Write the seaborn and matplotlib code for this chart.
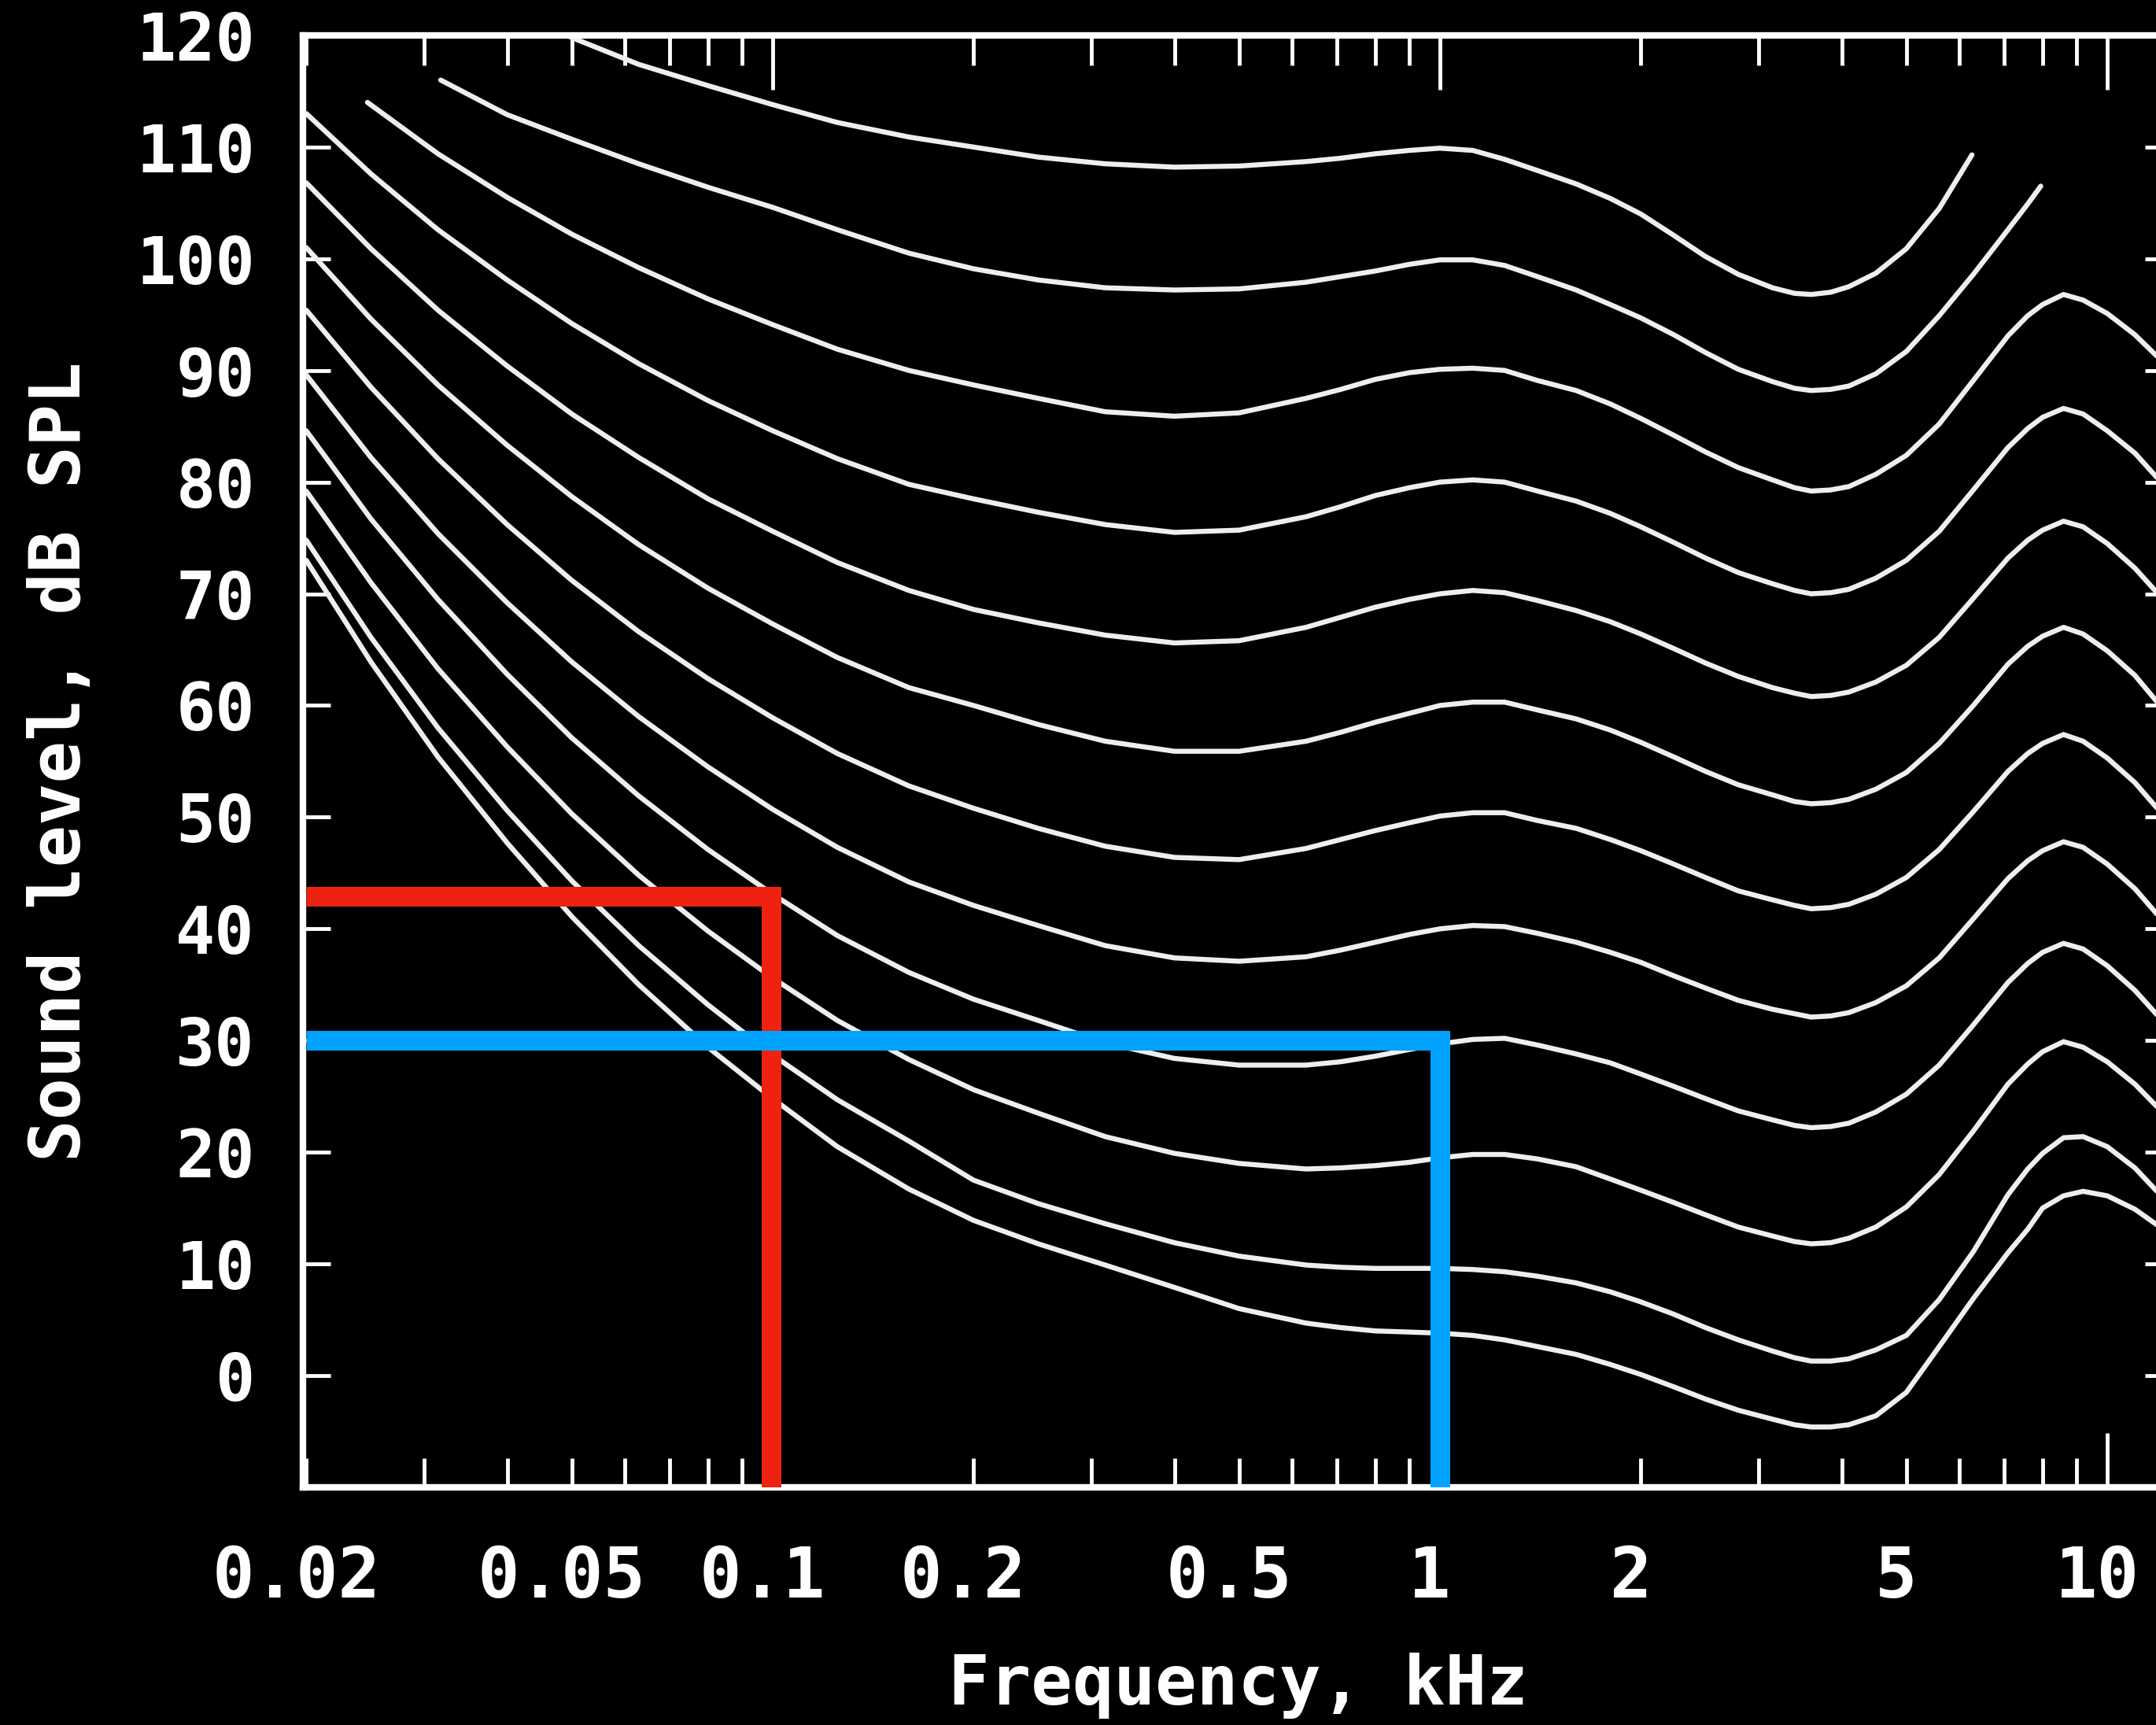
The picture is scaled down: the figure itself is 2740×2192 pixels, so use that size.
import matplotlib
matplotlib.use("Agg")
import matplotlib.pyplot as plt
import matplotlib.transforms as mtransforms
import pandas as pd
import seaborn as sns


# frequencies (kHz) shared by the lower contours
freq = [0.02, 0.025, 0.0315, 0.04, 0.05, 0.063, 0.08, 0.1, 0.125, 0.16,
        0.2, 0.25, 0.315, 0.4, 0.5, 0.63, 0.71, 0.8, 0.9, 1.0,
        1.12, 1.25, 1.4, 1.6, 1.8, 2.0, 2.24, 2.5, 2.8, 3.15,
        3.4, 3.6, 3.85, 4.1, 4.5, 5.0, 5.6, 6.3, 7.1, 7.6,
        8.0, 8.6, 9.2, 10.0, 11.0, 12.0]

# sound level (dB SPL)
spl_thr = [73.0, 63.9, 55.4, 47.7, 41.1, 35.0, 29.4, 24.8, 20.5, 16.7,
           13.9, 11.8, 9.9, 7.9, 6.0, 4.7, 4.3, 4.0, 3.9, 3.8,
           3.6, 3.2, 2.6, 1.9, 1.0, 0.1, -1.0, -2.1, -3.1, -3.9,
           -4.4, -4.6, -4.6, -4.4, -3.6, -1.5, 2.6, 6.9, 11.0, 13.1,
           15.0, 16.1, 16.5, 16.1, 14.9, 13.3]
spl_10 = [74.8, 66.1, 58.0, 50.6, 44.3, 38.5, 33.2, 28.7, 24.7, 21.0,
          17.5, 15.4, 13.6, 11.9, 10.7, 9.9, 9.7, 9.6, 9.6, 9.6,
          9.5, 9.3, 8.9, 8.3, 7.5, 6.6, 5.5, 4.3, 3.2, 2.2,
          1.6, 1.3, 1.3, 1.5, 2.3, 3.6, 6.8, 11.1, 16.2, 18.5,
          19.9, 21.3, 21.4, 20.5, 18.6, 16.2]
spl_20 = [79.2, 71.0, 63.3, 56.3, 50.3, 44.8, 39.8, 35.6, 31.8, 28.3,
          25.6, 23.5, 21.4, 19.9, 19.0, 18.5, 18.6, 18.8, 19.1, 19.5,
          19.8, 19.8, 19.4, 18.7, 17.6, 16.6, 15.5, 14.4, 13.3, 12.5,
          12.0, 11.8, 11.9, 12.3, 13.3, 15.1, 18.0, 21.9, 26.1, 27.9,
          29.0, 29.9, 29.4, 28.1, 26.1, 23.8]
spl_30 = [84.6, 76.7, 69.5, 62.8, 57.1, 51.9, 47.1, 43.1, 39.4, 36.1,
          33.7, 31.8, 29.8, 28.4, 27.8, 27.8, 28.1, 28.6, 29.2, 29.7,
          30.1, 30.2, 29.6, 28.8, 28.0, 27.0, 25.9, 24.8, 23.7, 22.9,
          22.4, 22.2, 22.3, 22.6, 23.6, 25.2, 27.8, 31.4, 35.2, 36.9,
          37.9, 38.7, 38.2, 36.7, 34.5, 32.0]
spl_40 = [89.6, 82.2, 75.4, 69.2, 63.9, 59.0, 54.5, 50.7, 47.3, 44.2,
          42.1, 40.3, 38.5, 37.4, 37.1, 37.5, 38.1, 38.8, 39.5, 40.0,
          40.3, 40.2, 39.6, 38.8, 37.9, 37.0, 35.8, 34.7, 33.6, 32.8,
          32.4, 32.1, 32.2, 32.5, 33.4, 34.9, 37.4, 40.9, 44.5, 46.1,
          47.0, 47.8, 47.3, 45.8, 43.6, 41.0]
spl_50 = [95.4, 88.5, 82.1, 76.2, 71.2, 66.6, 62.4, 58.9, 55.7, 52.8,
          50.8, 49.0, 47.4, 46.4, 46.2, 47.2, 48.0, 48.8, 49.5, 50.1,
          50.4, 50.4, 49.7, 49.0, 48.0, 47.0, 45.8, 44.6, 43.4, 42.6,
          42.1, 41.8, 41.9, 42.2, 43.1, 44.6, 47.1, 50.5, 54.1, 55.7,
          56.6, 57.4, 56.8, 55.3, 53.1, 50.5]
spl_60 = [101.0, 94.6, 88.7, 83.3, 78.7, 74.4, 70.5, 67.3, 64.3, 61.6,
          60.0, 58.3, 56.8, 55.9, 55.9, 56.8, 57.6, 58.5, 59.3, 60.0,
          60.3, 60.3, 59.6, 58.8, 57.8, 56.7, 55.4, 54.1, 52.9, 52.0,
          51.4, 51.2, 51.3, 51.6, 52.5, 54.0, 56.6, 60.0, 63.7, 65.3,
          66.2, 67.0, 66.4, 64.9, 62.7, 60.0]
spl_70 = [106.8, 100.9, 95.4, 90.4, 86.1, 82.2, 78.5, 75.6, 72.8, 70.3,
          68.6, 67.4, 66.3, 65.6, 65.8, 67.0, 67.9, 68.8, 69.5, 70.0,
          70.3, 70.1, 69.4, 68.5, 67.5, 66.4, 65.1, 63.8, 62.6, 61.6,
          61.1, 60.8, 60.9, 61.2, 62.1, 63.6, 66.1, 69.6, 73.2, 74.8,
          75.7, 76.5, 76.0, 74.5, 72.3, 69.8]
spl_80 = [113.0, 107.6, 102.6, 98.1, 94.2, 90.6, 87.3, 84.6, 82.1, 79.8,
          78.5, 77.3, 76.2, 75.5, 75.7, 76.9, 77.8, 78.8, 79.5, 80.0,
          80.2, 80.0, 79.2, 78.3, 77.2, 76.0, 74.6, 73.2, 71.9, 70.9,
          70.3, 70.0, 70.1, 70.4, 71.4, 73.0, 75.6, 79.3, 83.1, 84.8,
          85.8, 86.6, 86.1, 84.6, 82.6, 80.1]

# the three loudest contours start / stop inside the frame
freq_90 = [0.0247, 0.0315, 0.04, 0.05, 0.063, 0.08, 0.1, 0.125, 0.16,
           0.2, 0.25, 0.315, 0.4, 0.5, 0.63, 0.71, 0.8, 0.9, 1.0,
           1.12, 1.25, 1.4, 1.6, 1.8, 2.0, 2.24, 2.5, 2.8, 3.15,
           3.4, 3.6, 3.85, 4.1, 4.5, 5.0, 5.6, 6.3, 7.1, 7.6,
           8.0, 8.6, 9.2, 10.0, 11.0, 12.0]
spl_90 = [114.0, 109.4, 105.5, 102.2, 99.2, 96.4, 94.1, 91.9, 90.0,
          88.7, 87.5, 86.3, 85.9, 86.2, 87.5, 88.3, 89.2, 89.8, 90.1,
          90.2, 90.0, 89.1, 88.2, 87.0, 85.7, 84.2, 82.7, 81.3, 80.2,
          79.5, 79.2, 79.3, 79.6, 80.7, 82.4, 85.2, 89.1, 93.1, 94.9,
          95.9, 96.8, 96.3, 95.1, 93.2, 91.0]
freq_100 = [0.0318, 0.04, 0.05, 0.063, 0.08, 0.1, 0.125, 0.16,
            0.2, 0.25, 0.315, 0.4, 0.5, 0.63, 0.71, 0.8, 0.9, 1.0,
            1.12, 1.25, 1.4, 1.6, 1.8, 2.0, 2.24, 2.5, 2.8, 3.15,
            3.4, 3.6, 3.85, 4.1, 4.5, 5.0, 5.6, 6.3, 7.1, 7.6, 7.95]
spl_100 = [116.0, 112.9, 110.7, 108.5, 106.4, 104.6, 102.6, 100.5,
           99.1, 98.1, 97.4, 97.2, 97.3, 97.9, 98.4, 98.9, 99.5, 99.9,
           99.9, 99.4, 98.4, 97.2, 95.9, 94.7, 93.2, 91.6, 90.1, 89.0,
           88.4, 88.2, 88.3, 88.6, 89.7, 91.7, 94.9, 98.6, 102.6, 104.9, 106.5]
freq_110 = [0.047, 0.05, 0.063, 0.08, 0.1, 0.125, 0.16,
            0.2, 0.25, 0.315, 0.4, 0.5, 0.63, 0.71, 0.8, 0.9, 1.0,
            1.12, 1.25, 1.4, 1.6, 1.8, 2.0, 2.24, 2.5, 2.8, 3.15,
            3.4, 3.6, 3.85, 4.1, 4.5, 5.0, 5.6, 6.27]
spl_110 = [120.6, 119.8, 117.4, 115.5, 113.8, 112.2, 110.9,
           110.0, 109.1, 108.5, 108.2, 108.3, 108.7, 109.0, 109.4, 109.7, 109.9,
           109.7, 108.9, 107.9, 106.7, 105.4, 104.0, 102.1, 100.2, 98.6, 97.4,
           96.9, 96.8, 97.0, 97.5, 98.7, 100.9, 104.5, 109.3]

# highlighted readings (red: 0.1 kHz, blue: 1 kHz)
red_x = [0.02, 0.0995, 0.0995]
red_y = [42.9, 42.9, -10]
blue_x = [0.02, 1.0, 1.0]
blue_y = [30.0, 30.0, -10]

xtick_major = [0.1, 1, 10]
xtick_major_labels = ["0.1", "1", "10"]
xtick_minor = [0.02, 0.03, 0.04, 0.05, 0.06, 0.07, 0.08, 0.09,
               0.2, 0.3, 0.4, 0.5, 0.6, 0.7, 0.8, 0.9,
               2, 3, 4, 5, 6, 7, 8, 9]
xtick_minor_labels = ["0.02", "", "", "0.05", "", "", "", "",
                      "0.2", "", "", "0.5", "", "", "", "",
                      "2", "", "", "5", "", "", "", ""]
yticks = list(range(0, 130, 10))


curves = {
    "thr": (freq, spl_thr), "10": (freq, spl_10), "20": (freq, spl_20),
    "30": (freq, spl_30), "40": (freq, spl_40), "50": (freq, spl_50),
    "60": (freq, spl_60), "70": (freq, spl_70), "80": (freq, spl_80),
    "90": (freq_90, spl_90), "100": (freq_100, spl_100), "110": (freq_110, spl_110),
}
rows = []
for name, (fs, ls) in curves.items():
    rows += [(name, f, l) for f, l in zip(fs, ls)]
df = pd.DataFrame(rows, columns=["curve", "freq", "spl"])

sns.set_style("ticks")
plt.rcParams["font.family"] = ["DejaVu Sans Mono", "DejaVu Sans"]
plt.rcParams["font.weight"] = "bold"

fig = plt.figure(figsize=(27.4, 21.92), dpi=100, facecolor="black")
ax = fig.add_axes([0.1405, 0.1378, 0.8672, 0.8417])
ax.set_facecolor("black")
ax.set_xscale("log")

sns.lineplot(data=df, x="freq", y="spl", units="curve", estimator=None,
             color="#eeeeee", lw=4.6, legend=False, ax=ax, zorder=2)
sns.lineplot(x=red_x, y=red_y, sort=False, estimator=None, color="#ee2211",
             lw=18, solid_joinstyle="miter", solid_capstyle="butt", ax=ax, zorder=4)
sns.lineplot(x=blue_x, y=blue_y, sort=False, estimator=None, color="#00a3ff",
             lw=18, solid_joinstyle="miter", solid_capstyle="butt", ax=ax, zorder=4)

ax.set_xlim(0.01977, 12.53)
ax.set_ylim(-10, 120)

ax.set_xticks(xtick_major, xtick_major_labels)
ax.set_xticks(xtick_minor, xtick_minor_labels, minor=True)
ax.set_yticks(yticks, [str(v) for v in yticks])
ax.yaxis.set_minor_locator(matplotlib.ticker.NullLocator())

ax.tick_params(axis="x", which="major", direction="in", length=50, width=3.5,
               top=True, bottom=True, pad=52, labelsize=64, colors="white")
ax.tick_params(axis="x", which="minor", direction="in", length=27, width=3.5,
               top=True, bottom=True, pad=52, labelsize=64, colors="white")
ax.tick_params(axis="y", which="major", direction="in", length=25, width=3.5,
               left=True, right=True, pad=44, labelsize=60, colors="white")

# frequency labels sit a little left of their ticks in the original
shift = mtransforms.ScaledTranslation(-0.13, 0, fig.dpi_scale_trans)
for lab in ax.get_xticklabels(which="both"):
    lab.set_transform(lab.get_transform() + shift)

for side in ["left", "right", "top", "bottom"]:
    ax.spines[side].set_color("white")
    ax.spines[side].set_linewidth(6)
    ax.spines[side].set_zorder(3)

ax.set_xlabel("Frequency, kHz", fontsize=63, fontweight="bold",
              color="white", labelpad=37)
ax.set_ylabel("Sound level, dB SPL", fontsize=64, fontweight="bold",
              color="white", labelpad=38)

fig.savefig("out.png", dpi=100, facecolor="black")
